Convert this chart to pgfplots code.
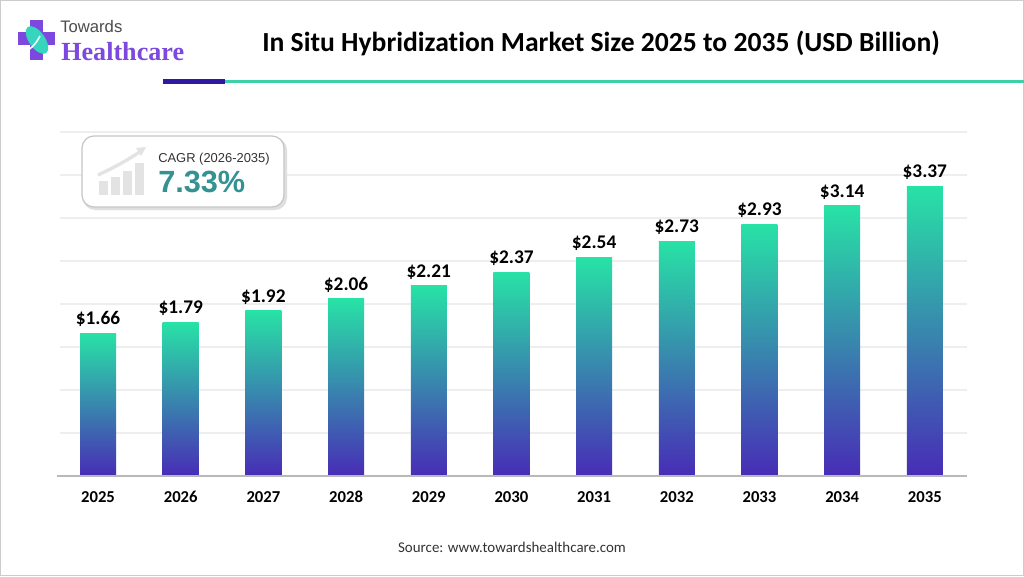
\documentclass[border=0pt]{standalone}
\usepackage{pgfplots}
\pgfplotsset{compat=1.18}
\usepackage{fontspec}
\setmainfont{Carlito}[Ligatures=NoCommon]
\newfontfamily\arialf{Liberation Sans}
\newfontfamily\logof{Liberation Serif}
\definecolor{bartop}{RGB}{40,226,166}
\definecolor{barmid}{RGB}{50,168,160}
\definecolor{barbot}{RGB}{72,44,182}
\definecolor{gridc}{RGB}{238,238,238}
\definecolor{indigoline}{RGB}{46,26,160}
\definecolor{tealline}{RGB}{60,208,166}
\definecolor{logopurple}{RGB}{124,72,222}
\definecolor{logoteal}{RGB}{52,214,190}
\definecolor{cagrteal}{RGB}{52,146,146}
\begin{document}
\begin{tikzpicture}
\useasboundingbox (0,0) rectangle (768pt,432pt);
\fill[white] (0,0) rectangle (768pt,432pt);
\draw[gray!40, line width=0.8pt] (0.4pt,0.4pt) rectangle (767.6pt,431.6pt);
\begin{axis}[
  at={(45pt,75pt)}, anchor=south west,
  scale only axis, width=680.25pt, height=258pt,
  xmin=-0.46, xmax=10.51, ymin=0, ymax=4,
  axis line style={draw=none},
  tick style={draw=none},
  ymajorgrids, ytick={0.5,1,...,4}, yticklabels={},
  grid style={gridc, line width=0.9pt},
  xtick={0,...,10}, xticklabels={2025,2026,2027,2028,2029,2030,2031,2032,2033,2034,2035},
  typeset ticklabels with strut,
  xticklabel style={font=\bfseries\fontsize{12.5}{14}\selectfont, yshift=-6.5pt},
  major tick length=0pt,
  clip=false,
  no markers,
  point meta=explicit symbolic,
  nodes near coords,
  nodes near coords style={font=\bfseries\fontsize{14.5}{16}\selectfont, anchor=base, yshift=6.5pt, inner sep=0pt, text=black},
  every axis plot/.append style={ybar, bar width=27pt, bar shift=0pt, draw=none, top color=bartop, middle color=barmid, bottom color=barbot},
]
\addplot coordinates {(0,1.66) [\$1.66]};
\addplot coordinates {(1,1.79) [\$1.79]};
\addplot coordinates {(2,1.92) [\$1.92]};
\addplot coordinates {(3,2.06) [\$2.06]};
\addplot coordinates {(4,2.21) [\$2.21]};
\addplot coordinates {(5,2.37) [\$2.37]};
\addplot coordinates {(6,2.54) [\$2.54]};
\addplot coordinates {(7,2.73) [\$2.73]};
\addplot coordinates {(8,2.93) [\$2.93]};
\addplot coordinates {(9,3.14) [\$3.14]};
\addplot coordinates {(10,3.37) [\$3.37]};
\draw[gray!55, line width=0.9pt] (axis cs:-0.5,0) -- (axis cs:10.51,0);
\end{axis}
\begin{scope}[x=0.75pt, y=-0.75pt, shift={(0pt,432pt)}]
% header lines
\fill[indigoline] (163,79.5) rectangle (225,84.5);
\fill[tealline] (225,80.5) rectangle (1024,83.5);
% title
\node[font=\bfseries\fontsize{20.7}{24}\selectfont, anchor=base] at (601,52) {In Situ Hybridization Market Size 2025 to 2035 (USD Billion)};
% logo
\fill[logopurple] (30,20) rectangle (43,60);
\fill[logopurple] (18,32) rectangle (55,45);
\fill[logoteal, rotate around={-55:(37,40)}] (37,40) ellipse (16 and 8);
\draw[white, line width=1.2pt] (24,52) .. controls (30,50) and (36,44) .. (40,36);
\node[anchor=base west, font=\arialf\fontsize{12.5}{14}\selectfont, text=black!70, inner sep=0pt] at (60,33) {Towards};
\node[anchor=base west, font=\logof\bfseries\fontsize{19.6}{22}\selectfont, text=logopurple, inner sep=0pt] at (61,61) {Healthcare};
% CAGR box
\fill[gray!25, rounded corners=9] (83,138) rectangle (287,210);
\filldraw[fill=white, draw=gray!45, line width=0.9pt, rounded corners=9] (82,136) rectangle (284,207);
\fill[gray!22] (99,181) rectangle (108,195);
\fill[gray!22] (111,177) rectangle (120,195);
\fill[gray!22] (123,171) rectangle (132,195);
\fill[gray!22] (135,163) rectangle (144,195);
\draw[gray!22, line width=2.5pt] (98,175) .. controls (115,167) and (128,160) .. (141,151);
\fill[gray!22] (146,147) -- (136,148) -- (141,156) -- cycle;
\node[anchor=base west, font=\arialf\fontsize{9.7}{11}\selectfont, text=black!80, inner sep=0pt] at (158,163) {CAGR (2026-2035)};
\node[anchor=base west, font=\arialf\bfseries\fontsize{23}{26}\selectfont, text=cagrteal, inner sep=0pt] at (158,192) {7.33\%};
% source
\node[anchor=base, font=\fontsize{11.2}{13}\selectfont, text=black!80] at (512,552) {Source: www.towardshealthcare.com};
\end{scope}
\end{tikzpicture}
\end{document}
